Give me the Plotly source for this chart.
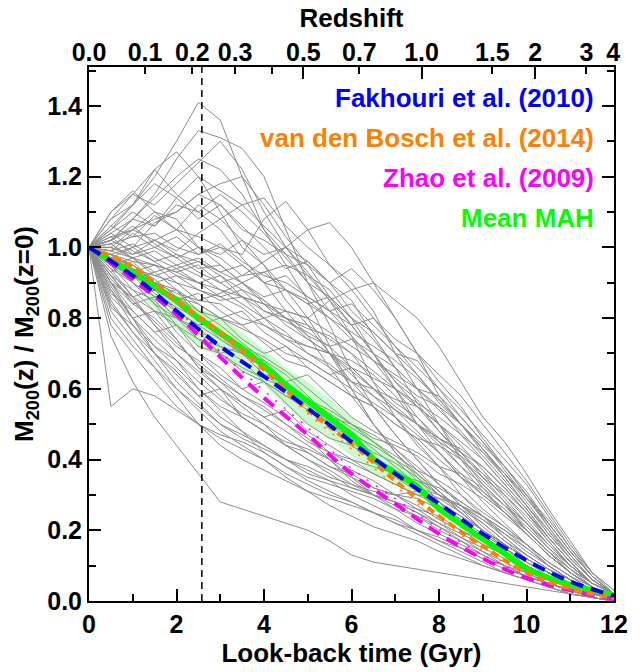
import plotly.graph_objects as go

# ---------------- data ----------------
t_grid = [0.0, 0.5, 1.0, 1.5, 2.0, 2.5, 3.0, 3.5, 4.0, 4.5, 5.0, 5.5, 6.0,
          6.5, 7.0, 7.5, 8.0, 8.5, 9.0, 9.5, 10.0, 10.5, 11.0, 11.5, 12.0]

halo_mah = [
    [1.0,1.05,1.12,1.2,1.3,1.41,1.36,1.2,1.05,0.95,0.85,0.72,0.6,0.5,0.42,0.35,0.28,0.22,0.17,0.13,0.09,0.06,0.04,0.02,0.01],
    [1.0,1.02,1.08,1.15,1.25,1.33,1.31,1.28,1.2,1.05,0.9,0.78,0.65,0.55,0.47,0.4,0.33,0.27,0.21,0.16,0.12,0.08,0.05,0.03,0.01],
    [1.0,1.08,1.15,1.22,1.27,1.2,1.1,1.0,0.95,0.88,0.8,0.7,0.6,0.5,0.42,0.36,0.3,0.25,0.2,0.15,0.11,0.07,0.05,0.03,0.01],
    [1.0,1.1,1.15,1.12,1.18,1.24,1.3,1.22,1.1,1.0,0.92,0.85,0.75,0.62,0.52,0.45,0.38,0.3,0.24,0.18,0.13,0.09,0.06,0.03,0.01],
    [1.0,1.1,1.16,1.1,1.05,1.0,0.98,1.02,0.95,0.85,0.78,0.7,0.62,0.55,0.47,0.4,0.33,0.27,0.22,0.17,0.12,0.08,0.05,0.03,0.01],
    [1.0,1.06,1.12,1.22,1.15,1.1,1.05,0.97,0.9,0.82,0.75,0.66,0.58,0.5,0.43,0.37,0.31,0.25,0.2,0.15,0.1,0.07,0.04,0.02,0.01],
    [1.0,0.98,1.0,1.02,1.05,1.03,1.0,0.98,1.08,1.13,1.05,0.95,0.9,0.82,0.7,0.6,0.5,0.4,0.32,0.25,0.19,0.13,0.08,0.04,0.01],
    [1.0,1.0,0.97,0.95,0.93,0.95,0.9,0.92,0.96,1.0,1.05,1.07,1.0,0.9,0.8,0.7,0.58,0.5,0.43,0.35,0.27,0.19,0.12,0.06,0.02],
    [1.0,0.97,0.95,0.9,0.92,0.88,0.85,0.86,0.84,0.82,0.8,0.85,0.88,0.9,0.85,0.8,0.72,0.62,0.52,0.45,0.36,0.26,0.17,0.08,0.02],
    [1.0,1.04,1.0,1.07,1.1,1.15,1.12,1.05,1.02,0.98,0.95,0.9,0.85,0.75,0.66,0.6,0.55,0.47,0.4,0.33,0.26,0.18,0.11,0.05,0.02],
    [1.0,1.02,1.05,1.1,1.08,1.0,0.97,0.92,0.93,0.95,0.92,0.88,0.8,0.7,0.62,0.55,0.5,0.42,0.35,0.28,0.2,0.14,0.08,0.04,0.01],
    [1.0,1.0,1.05,1.08,1.1,1.15,1.18,1.2,1.12,1.03,0.95,0.86,0.78,0.7,0.6,0.5,0.42,0.35,0.28,0.22,0.16,0.1,0.06,0.03,0.01],
    [1.0,0.98,0.96,0.95,0.93,0.9,0.92,0.88,0.85,0.8,0.78,0.74,0.7,0.65,0.6,0.55,0.48,0.42,0.36,0.29,0.22,0.15,0.09,0.05,0.02],
    [1.0,1.0,0.98,1.0,0.97,0.93,0.9,0.86,0.82,0.8,0.75,0.72,0.66,0.6,0.54,0.48,0.42,0.35,0.3,0.25,0.2,0.14,0.09,0.04,0.01],
    [1.0,0.97,0.94,0.92,0.9,0.88,0.86,0.83,0.78,0.74,0.72,0.7,0.68,0.64,0.58,0.5,0.44,0.38,0.33,0.27,0.21,0.15,0.1,0.05,0.02],
    [1.0,1.03,1.05,1.02,0.98,0.96,0.93,0.9,0.85,0.8,0.77,0.75,0.7,0.62,0.56,0.52,0.46,0.4,0.34,0.28,0.22,0.16,0.1,0.05,0.02],
    [1.0,0.99,1.01,0.97,0.94,0.96,0.92,0.86,0.8,0.76,0.7,0.66,0.62,0.6,0.55,0.5,0.46,0.42,0.38,0.32,0.25,0.17,0.1,0.05,0.02],
    [1.0,0.96,0.93,0.95,0.9,0.85,0.84,0.8,0.78,0.75,0.72,0.7,0.65,0.6,0.57,0.55,0.5,0.45,0.4,0.33,0.26,0.18,0.11,0.05,0.02],
    [1.0,1.01,1.03,1.04,1.0,0.98,1.0,0.95,0.9,0.88,0.85,0.8,0.76,0.72,0.68,0.63,0.57,0.5,0.43,0.36,0.29,0.22,0.14,0.07,0.02],
    [1.0,0.95,0.92,0.88,0.86,0.84,0.8,0.77,0.74,0.7,0.68,0.64,0.6,0.56,0.52,0.47,0.42,0.36,0.3,0.25,0.19,0.13,0.08,0.04,0.01],
    [1.0,0.98,0.95,0.9,0.87,0.85,0.87,0.9,0.84,0.78,0.74,0.7,0.64,0.58,0.52,0.44,0.38,0.32,0.26,0.21,0.16,0.11,0.07,0.03,0.01],
    [1.0,1.02,0.99,0.96,0.92,0.9,0.88,0.84,0.8,0.82,0.8,0.76,0.72,0.68,0.64,0.6,0.54,0.48,0.41,0.34,0.27,0.2,0.13,0.06,0.02],
    [1.0,0.97,0.92,0.9,0.88,0.82,0.8,0.78,0.73,0.68,0.66,0.62,0.58,0.55,0.5,0.46,0.4,0.35,0.31,0.26,0.2,0.14,0.08,0.04,0.01],
    [1.0,0.99,0.97,0.93,0.95,0.92,0.88,0.86,0.84,0.8,0.74,0.7,0.66,0.63,0.6,0.56,0.52,0.47,0.42,0.36,0.3,0.23,0.15,0.08,0.03],
    [1.0,0.96,0.9,0.86,0.82,0.78,0.74,0.7,0.66,0.62,0.57,0.52,0.48,0.43,0.38,0.33,0.28,0.23,0.18,0.14,0.1,0.07,0.04,0.02,0.01],
    [1.0,0.94,0.9,0.84,0.8,0.77,0.72,0.7,0.64,0.6,0.55,0.5,0.46,0.42,0.39,0.35,0.3,0.26,0.22,0.17,0.13,0.09,0.06,0.03,0.01],
    [1.0,0.97,0.93,0.87,0.83,0.8,0.75,0.7,0.68,0.64,0.58,0.52,0.45,0.4,0.36,0.32,0.29,0.25,0.2,0.16,0.12,0.08,0.05,0.02,0.01],
    [1.0,0.92,0.88,0.85,0.78,0.74,0.72,0.68,0.62,0.58,0.56,0.52,0.5,0.45,0.4,0.34,0.3,0.27,0.23,0.18,0.13,0.09,0.05,0.03,0.01],
    [1.0,0.98,0.94,0.9,0.84,0.79,0.76,0.72,0.69,0.65,0.6,0.55,0.5,0.47,0.43,0.38,0.33,0.28,0.24,0.19,0.15,0.1,0.06,0.03,0.01],
    [1.0,0.95,0.88,0.82,0.8,0.76,0.7,0.65,0.62,0.58,0.54,0.5,0.44,0.4,0.35,0.31,0.27,0.23,0.19,0.15,0.11,0.08,0.05,0.02,0.01],
    [1.0,0.93,0.86,0.82,0.78,0.72,0.7,0.66,0.63,0.6,0.56,0.5,0.47,0.44,0.4,0.36,0.31,0.26,0.2,0.16,0.12,0.08,0.05,0.03,0.01],
    [1.0,0.97,0.95,0.91,0.86,0.82,0.78,0.73,0.68,0.62,0.57,0.53,0.49,0.45,0.41,0.37,0.34,0.3,0.25,0.21,0.16,0.11,0.07,0.04,0.01],
    [1.0,0.9,0.82,0.76,0.7,0.65,0.6,0.55,0.5,0.46,0.42,0.38,0.35,0.32,0.3,0.27,0.23,0.2,0.16,0.13,0.09,0.06,0.04,0.02,0.01],
    [1.0,0.88,0.78,0.72,0.66,0.6,0.55,0.52,0.48,0.45,0.43,0.4,0.37,0.34,0.3,0.26,0.22,0.18,0.14,0.11,0.08,0.05,0.03,0.02,0.01],
    [1.0,0.86,0.8,0.74,0.68,0.62,0.57,0.53,0.5,0.44,0.4,0.36,0.32,0.3,0.28,0.25,0.21,0.17,0.14,0.1,0.07,0.05,0.03,0.01,0.0],
    [1.0,0.85,0.76,0.7,0.64,0.58,0.52,0.48,0.44,0.4,0.36,0.34,0.32,0.3,0.27,0.24,0.2,0.17,0.13,0.1,0.07,0.05,0.03,0.01,0.0],
    [1.0,0.9,0.84,0.8,0.74,0.66,0.62,0.56,0.52,0.48,0.44,0.4,0.35,0.3,0.26,0.22,0.19,0.16,0.13,0.1,0.08,0.05,0.03,0.02,0.01],
    [1.0,0.92,0.85,0.78,0.72,0.68,0.63,0.58,0.54,0.5,0.46,0.4,0.34,0.3,0.28,0.25,0.22,0.19,0.16,0.13,0.1,0.07,0.04,0.02,0.01],
    [1.0,0.8,0.72,0.66,0.6,0.55,0.5,0.47,0.44,0.4,0.37,0.34,0.3,0.27,0.24,0.2,0.17,0.14,0.11,0.08,0.06,0.04,0.02,0.01,0.0],
    [1.0,0.78,0.7,0.62,0.55,0.5,0.46,0.43,0.4,0.36,0.33,0.3,0.28,0.25,0.22,0.2,0.17,0.15,0.12,0.09,0.07,0.05,0.03,0.01,0.0],
    [1.0,0.55,0.6,0.58,0.54,0.5,0.47,0.45,0.42,0.38,0.34,0.31,0.28,0.25,0.22,0.19,0.16,0.13,0.1,0.08,0.06,0.04,0.02,0.01,0.0],
    [1.0,0.75,0.62,0.52,0.44,0.36,0.28,0.26,0.24,0.22,0.2,0.17,0.13,0.11,0.1,0.09,0.08,0.07,0.06,0.05,0.04,0.03,0.02,0.01,0.0],
    [1.0,0.82,0.74,0.66,0.58,0.5,0.44,0.4,0.37,0.34,0.31,0.29,0.27,0.25,0.23,0.2,0.18,0.15,0.12,0.1,0.07,0.05,0.03,0.01,0.0],
    [1.0,0.88,0.8,0.72,0.68,0.6,0.54,0.48,0.42,0.38,0.35,0.33,0.31,0.29,0.26,0.24,0.21,0.18,0.15,0.12,0.09,0.06,0.04,0.02,0.01],
    [1.0,0.94,0.86,0.78,0.7,0.64,0.58,0.52,0.48,0.44,0.4,0.37,0.33,0.3,0.28,0.26,0.24,0.2,0.17,0.13,0.1,0.07,0.04,0.02,0.01],
    [1.0,0.9,0.8,0.7,0.62,0.56,0.5,0.46,0.43,0.4,0.38,0.35,0.33,0.31,0.3,0.29,0.26,0.22,0.18,0.14,0.1,0.06,0.04,0.02,0.01],
    [1.0,0.84,0.76,0.68,0.6,0.54,0.48,0.44,0.4,0.35,0.31,0.27,0.24,0.21,0.19,0.17,0.14,0.12,0.1,0.08,0.06,0.04,0.02,0.01,0.0],
    [1.0,0.95,0.9,0.84,0.76,0.7,0.66,0.6,0.56,0.52,0.47,0.42,0.39,0.36,0.33,0.3,0.27,0.24,0.2,0.16,0.12,0.08,0.05,0.02,0.01],
    [1.0,1.04,1.08,1.06,1.12,1.1,1.15,1.1,1.04,0.97,0.9,0.86,0.8,0.74,0.66,0.56,0.48,0.41,0.33,0.27,0.2,0.14,0.09,0.05,0.02],
    [1.0,1.06,1.03,1.09,1.05,1.12,1.08,1.02,0.98,1.0,0.93,0.85,0.78,0.7,0.62,0.57,0.5,0.44,0.37,0.3,0.23,0.16,0.1,0.05,0.02],
    [1.0,0.99,1.04,1.0,1.03,0.98,1.01,0.96,0.92,0.9,0.86,0.82,0.84,0.78,0.72,0.66,0.6,0.52,0.45,0.38,0.3,0.22,0.14,0.07,0.02],
    [1.0,1.03,0.98,1.02,0.99,1.04,1.08,1.12,1.06,1.0,0.96,0.9,0.94,0.88,0.8,0.7,0.62,0.55,0.46,0.38,0.3,0.21,0.13,0.06,0.02],
    [1.0,0.97,1.0,0.96,0.98,0.94,0.95,0.9,0.93,0.88,0.84,0.86,0.8,0.76,0.7,0.68,0.6,0.54,0.47,0.4,0.33,0.24,0.15,0.07,0.02],
    [1.0,1.01,0.97,0.99,0.95,0.97,0.93,0.95,0.9,0.92,0.86,0.82,0.78,0.8,0.74,0.7,0.64,0.58,0.5,0.42,0.34,0.25,0.16,0.08,0.03],
    [1.0,1.08,1.12,1.18,1.14,1.08,1.12,1.06,1.0,0.94,0.96,0.9,0.82,0.76,0.7,0.64,0.56,0.5,0.43,0.36,0.28,0.2,0.12,0.06,0.02],
    [1.0,0.95,0.97,0.92,0.94,0.9,0.86,0.88,0.82,0.79,0.76,0.72,0.74,0.68,0.63,0.58,0.55,0.5,0.44,0.38,0.31,0.22,0.14,0.07,0.02],
    [1.0,1.02,1.06,1.01,0.97,1.0,0.95,0.9,0.86,0.88,0.84,0.8,0.74,0.7,0.66,0.6,0.58,0.52,0.45,0.37,0.29,0.21,0.13,0.06,0.02],
    [1.0,0.93,0.96,0.9,0.85,0.87,0.82,0.78,0.8,0.74,0.7,0.67,0.62,0.58,0.54,0.5,0.46,0.43,0.38,0.32,0.25,0.18,0.11,0.05,0.02],
    [1.0,0.9,0.86,0.88,0.82,0.78,0.8,0.74,0.7,0.72,0.66,0.62,0.58,0.55,0.5,0.46,0.44,0.4,0.35,0.3,0.24,0.17,0.1,0.05,0.02],
    [1.0,0.96,0.91,0.93,0.88,0.84,0.8,0.82,0.76,0.72,0.68,0.64,0.66,0.6,0.54,0.5,0.45,0.41,0.36,0.31,0.25,0.18,0.11,0.05,0.02],
    [1.0,0.92,0.84,0.86,0.8,0.74,0.7,0.72,0.66,0.6,0.57,0.54,0.5,0.46,0.44,0.41,0.36,0.33,0.29,0.24,0.19,0.13,0.08,0.04,0.01],
    [1.0,0.87,0.82,0.76,0.78,0.7,0.64,0.6,0.62,0.56,0.5,0.46,0.44,0.4,0.36,0.34,0.32,0.28,0.24,0.2,0.15,0.1,0.06,0.03,0.01],
    [1.0,0.89,0.8,0.82,0.74,0.66,0.6,0.56,0.52,0.54,0.48,0.44,0.4,0.38,0.36,0.32,0.3,0.27,0.23,0.19,0.14,0.1,0.06,0.03,0.01],
    [1.0,0.83,0.78,0.7,0.65,0.58,0.6,0.52,0.48,0.44,0.42,0.38,0.36,0.32,0.3,0.31,0.28,0.24,0.2,0.16,0.12,0.08,0.05,0.02,0.01],
    [1.0,0.91,0.85,0.79,0.73,0.67,0.62,0.58,0.55,0.5,0.45,0.42,0.4,0.36,0.33,0.3,0.29,0.27,0.24,0.2,0.16,0.11,0.07,0.03,0.01],
    [1.0,0.98,0.92,0.86,0.88,0.8,0.74,0.7,0.66,0.62,0.64,0.58,0.52,0.48,0.45,0.42,0.38,0.36,0.32,0.27,0.22,0.16,0.1,0.05,0.02],
    [1.0,1.05,1.1,1.06,1.14,1.2,1.16,1.12,1.14,1.06,1.0,0.95,0.88,0.8,0.72,0.64,0.57,0.5,0.42,0.35,0.27,0.19,0.12,0.06,0.02],
    [1.0,1.02,1.08,1.14,1.2,1.25,1.22,1.15,1.05,0.98,0.9,0.82,0.75,0.68,0.6,0.52,0.45,0.38,0.31,0.25,0.19,0.13,0.08,0.04,0.01],
]

mean_mah = [1.0,0.96,0.93,0.89,0.85,0.80,0.76,0.715,0.665,0.61,0.565,0.52,0.47,
            0.40,0.36,0.325,0.26,0.215,0.175,0.135,0.09,0.065,0.045,0.03,0.015]

band_t = [1.3, 2.0, 2.5, 3.0, 3.5, 4.0, 4.5, 5.0, 5.5, 6.0, 6.5, 7.0, 7.5, 7.8]
band_upper = [0.87, 0.86, 0.83, 0.80, 0.76, 0.71, 0.66, 0.62, 0.57, 0.52, 0.46, 0.40, 0.36, 0.32]
band_lower = [0.85, 0.77, 0.72, 0.69, 0.65, 0.61, 0.55, 0.50, 0.46, 0.41, 0.36, 0.33, 0.30, 0.30]

model_t = [0, 1, 2, 3, 4, 5, 6, 7, 8, 9, 10, 11, 12]
fakhouri = [1.0, 0.92, 0.82, 0.72, 0.635, 0.545, 0.45, 0.36, 0.275, 0.19, 0.115, 0.055, 0.015]
vdbosch = [1.0, 0.945, 0.85, 0.76, 0.655, 0.54, 0.445, 0.34, 0.24, 0.155, 0.08, 0.035, 0.008]
vdbosch_alt = [1.0, 0.935, 0.84, 0.75, 0.645, 0.53, 0.43, 0.325, 0.23, 0.145, 0.075, 0.03, 0.006]
zhao = [1.0, 0.91, 0.81, 0.69, 0.575, 0.47, 0.36, 0.275, 0.19, 0.12, 0.065, 0.03, 0.005]
zhao_alt = [1.0, 0.925, 0.825, 0.705, 0.595, 0.49, 0.375, 0.29, 0.205, 0.13, 0.07, 0.032, 0.006]

z_labels = ["0.0", "0.1", "0.2", "0.3", "0.5", "0.7", "1.0", "1.5", "2", "3", "4"]
z_lookback = [0.0, 1.28, 2.36, 3.34, 4.9, 6.18, 7.6, 9.22, 10.2, 11.37, 11.98]
z_major_lookback = [0.0, 4.9, 7.6, 10.2, 11.98]
z_minor_lookback = [4.19]

ref_time = 2.58  # vertical dashed line (look-back time)

legend_labels = ["Fakhouri et al. (2010)", "van den Bosch et al. (2014)",
                 "Zhao et al. (2009)", "Mean MAH"]
legend_colors = ["#0000ff", "#ff7f00", "#ff00ff", "#00ff00"]

# ---------------- figure ----------------
FONT = "Liberation Sans"
fig = go.Figure()

for curve in halo_mah:
    fig.add_trace(go.Scatter(x=t_grid, y=curve, mode="lines",
                             line=dict(color="#8c8c8c", width=1),
                             showlegend=False, hoverinfo="skip"))

fig.add_trace(go.Scatter(x=band_t + band_t[::-1], y=band_upper + band_lower[::-1],
                         fill="toself", fillcolor="rgba(60,230,60,0.25)",
                         line=dict(width=0), mode="lines", showlegend=False))

fig.add_trace(go.Scatter(x=[ref_time, ref_time], y=[0, 1.51], mode="lines",
                         line=dict(color="black", width=1.5, dash="7px,5px"),
                         showlegend=False))

fig.add_trace(go.Scatter(x=t_grid, y=mean_mah, mode="lines",
                         line=dict(color="#00ff00", width=6), showlegend=False))
fig.add_trace(go.Scatter(x=model_t, y=zhao_alt, mode="lines", line_shape="spline",
                         line=dict(color="#ff00ff", width=1.5, dash="2px,9px"), showlegend=False))
fig.add_trace(go.Scatter(x=model_t, y=zhao, mode="lines", line_shape="spline",
                         line=dict(color="#ff00ff", width=4, dash="13px,8px"), showlegend=False))
fig.add_trace(go.Scatter(x=model_t, y=vdbosch_alt, mode="lines", line_shape="spline",
                         line=dict(color="#ff7f00", width=1.5, dash="2px,9px"), showlegend=False))
fig.add_trace(go.Scatter(x=model_t, y=vdbosch, mode="lines", line_shape="spline",
                         line=dict(color="#ff7f00", width=4, dash="8px,5px"), showlegend=False))
fig.add_trace(go.Scatter(x=model_t, y=fakhouri, mode="lines", line_shape="spline",
                         line=dict(color="#0000ff", width=4, dash="13px,8px"), showlegend=False))

# overlay axes for redshift (top)
fig.add_trace(go.Scatter(x=[0, 12], y=[None, None], xaxis="x2", yaxis="y",
                         showlegend=False, hoverinfo="skip"))
fig.add_trace(go.Scatter(x=[0, 12], y=[None, None], xaxis="x3", yaxis="y",
                         showlegend=False, hoverinfo="skip"))

tickfont = dict(family=FONT, size=25, color="black", weight="bold")
titlefont = dict(family=FONT, size=26, color="black", weight="bold")

for i, (lab, col) in enumerate(zip(legend_labels, legend_colors)):
    fig.add_annotation(x=0.966, y=0.942 - i * 0.075, xref="paper", yref="paper",
                       text=lab, showarrow=False, xanchor="right", yanchor="middle",
                       font=dict(family=FONT, size=26, color=col, weight="bold"))

fig.update_layout(
    width=640, height=672,
    margin=dict(l=89, r=15, t=67, b=69),
    plot_bgcolor="white", paper_bgcolor="white",
    showlegend=False,
    xaxis=dict(range=[0, 12], showline=True, linecolor="black", linewidth=2,
               mirror=True, ticks="inside", ticklen=12, tickwidth=2, tickcolor="black",
               tickmode="array", tickvals=[0, 2, 4, 6, 8, 10, 12],
               minor=dict(tickvals=[1, 3, 5, 7, 9, 11], ticklen=7, tickwidth=2,
                          tickcolor="black", ticks="inside"),
               showgrid=False, zeroline=False, tickfont=tickfont,
               title=dict(text="Look-back time (Gyr)", font=titlefont, standoff=4)),
    yaxis=dict(range=[0, 1.51], showline=True, linecolor="black", linewidth=2,
               mirror="ticks", ticks="inside", ticklen=12, tickwidth=2, tickcolor="black",
               tickmode="array", tickvals=[0, 0.2, 0.4, 0.6, 0.8, 1.0, 1.2, 1.4],
               ticktext=["0.0", "0.2", "0.4", "0.6", "0.8", "1.0", "1.2", "1.4"],
               minor=dict(tickvals=[0.1, 0.3, 0.5, 0.7, 0.9, 1.1, 1.3, 1.5], ticklen=7,
                          tickwidth=2, tickcolor="black", ticks="inside"),
               showgrid=False, zeroline=False, tickfont=tickfont,
               title=dict(text="M<sub>200</sub>(z) / M<sub>200</sub>(z=0)",
                          font=titlefont, standoff=6)),
    xaxis2=dict(range=[0, 12], overlaying="x", side="top", anchor="y",
                ticks="inside", ticklen=7, tickwidth=2, tickcolor="black",
                tickmode="array", tickvals=z_lookback, ticktext=z_labels,
                minor=dict(tickvals=z_minor_lookback, ticklen=7, tickwidth=2,
                           tickcolor="black", ticks="inside"),
                showgrid=False, zeroline=False, showline=False, tickfont=tickfont,
                title=dict(text="Redshift", font=titlefont, standoff=2)),
    xaxis3=dict(range=[0, 12], overlaying="x", side="top", anchor="y",
                ticks="inside", ticklen=12, tickwidth=2, tickcolor="black",
                tickmode="array", tickvals=z_major_lookback, showticklabels=False,
                showgrid=False, zeroline=False, showline=False),
)

fig.write_html("out.html")
